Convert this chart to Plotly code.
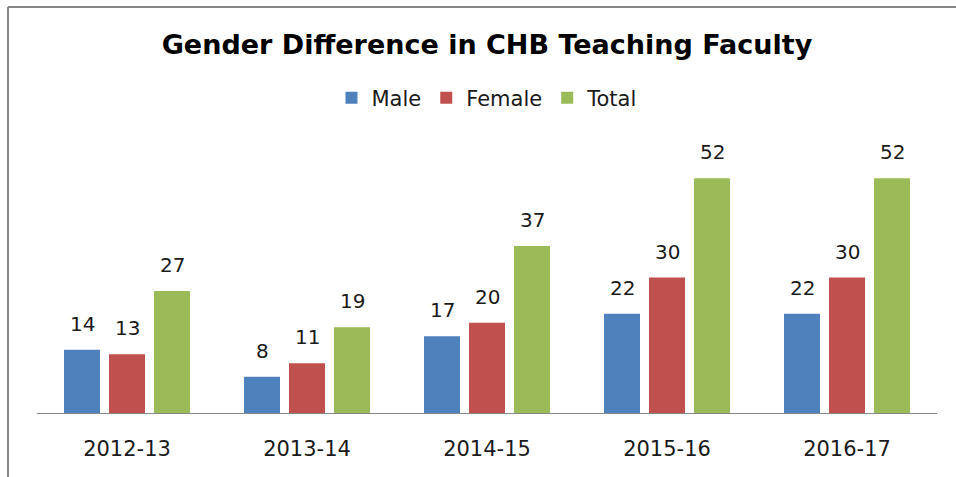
import plotly.graph_objects as go

categories = ["2012-13", "2013-14", "2014-15", "2015-16", "2016-17"]
male = [14, 8, 17, 22, 22]
female = [13, 11, 20, 30, 30]
total = [27, 19, 37, 52, 52]

series = [("Male", male, "#4F81BD"), ("Female", female, "#C0504D"), ("Total", total, "#9BBB59")]

W, H = 956, 477
ML, MR, MT, MB = 37, 19, 142, 64
BARGAP = 0.25
plot_w = W - ML - MR
plot_h = H - MT - MB
slot = plot_w / len(categories) * (1 - BARGAP) / len(series)

fig = go.Figure()
for name, vals, col in series:
    fig.add_trace(go.Bar(
        x=categories, y=vals, name=name, marker_color=col, marker_line_width=0,
    ))

annotations = []
for i, (name, vals, col) in enumerate(series):
    shift = (i - (len(series) - 1) / 2) * slot
    for c, v in zip(categories, vals):
        annotations.append(dict(
            x=c, y=v, xref="x", yref="y", text=str(v), showarrow=False,
            xanchor="center", yanchor="bottom", xshift=shift, yshift=12,
            font=dict(family="DejaVu Sans", size=20, color="#1a1a1a"),
        ))

fig.update_layout(
    width=W, height=H,
    margin=dict(l=ML, r=MR, t=MT, b=MB),
    paper_bgcolor="white", plot_bgcolor="white",
    barmode="group", bargap=BARGAP, bargroupgap=0.2,
    title=dict(text="<b>Gender Difference in CHB Teaching Faculty</b>",
               x=0.5, xref="paper", xanchor="center", y=1 - 45 / H, yanchor="middle",
               font=dict(family="DejaVu Sans", size=27, color="#000000")),
    legend=dict(orientation="h", x=0.5, xanchor="center", y=(413 - 98) / plot_h, yanchor="middle",
                font=dict(family="DejaVu Sans", size=21, color="#1a1a1a"),
                itemwidth=30, traceorder="normal"),
    showlegend=True,
    xaxis=dict(showline=True, linecolor="#868686", linewidth=1, ticks="",
               tickfont=dict(family="DejaVu Sans", size=21, color="#1a1a1a"),
               ticklabelstandoff=17, showgrid=False),
    yaxis=dict(range=[0, 60], visible=False, showgrid=False, zeroline=False),
    annotations=annotations,
)

xl = (8 - ML) / plot_w
yt = (413 - 7) / plot_h
fig.add_shape(type="line", xref="paper", yref="paper", x0=xl, x1=xl, y0=-1, y1=yt,
              line=dict(color="#858585", width=2))
fig.add_shape(type="line", xref="paper", yref="paper", x0=xl, x1=1.2, y0=yt, y1=yt,
              line=dict(color="#858585", width=2))

fig.write_html("out.html", config={"displayModeBar": False},
               post_script="document.body.style.margin='0';document.body.style.overflow='hidden';")
